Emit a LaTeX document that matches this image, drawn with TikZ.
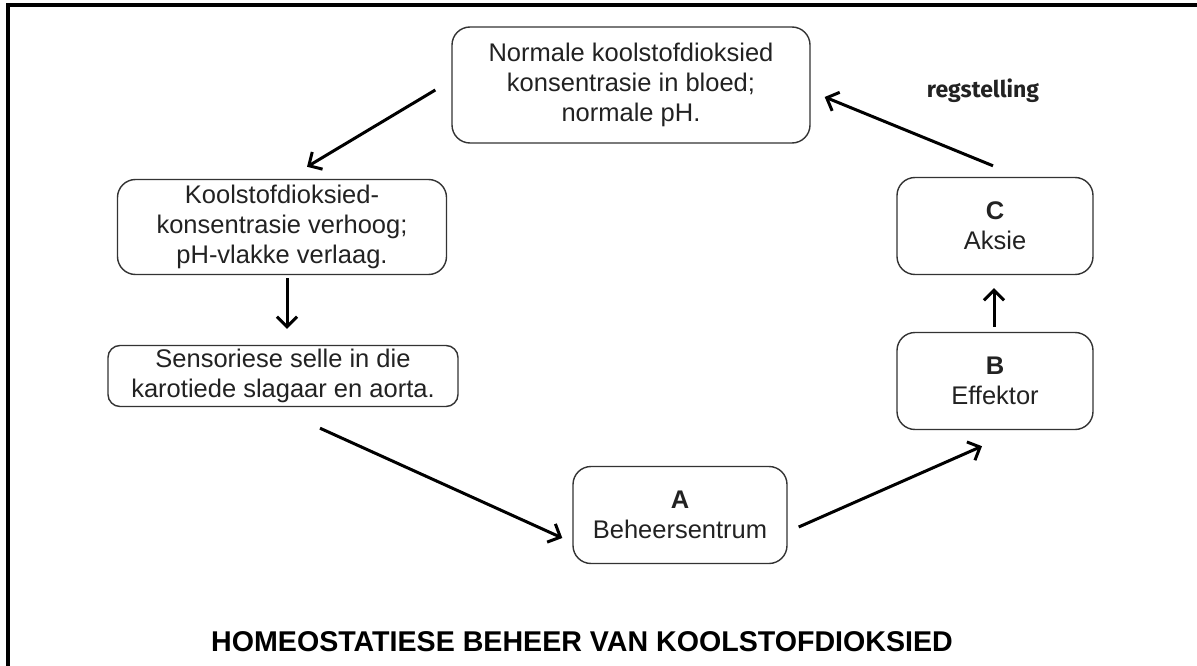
\documentclass[tikz,border=0pt]{standalone}
\usepackage{fontspec}
\setmainfont{Liberation Sans}
\newfontfamily\regfont{Fira Sans}
\usetikzlibrary{arrows.meta,calc}
\definecolor{boxline}{HTML}{333333}
\definecolor{txt}{HTML}{222222}
\tikzset{
  boxnode/.style={draw=boxline, line width=1.4pt, rounded corners=18pt, align=center,
    inner sep=0pt, text=txt, font=\fontsize{25.5}{30}\selectfont},
  flow/.style={line width=3pt, -{Straight Barb[length=10pt,width=20pt,line width=3pt]}},
}
\begin{document}
\begin{tikzpicture}[x=1pt,y=-1pt]
\useasboundingbox (0,0) rectangle (1197,666);
\fill[white] (0,0) rectangle (1197,666);
\draw[line width=4pt] (8,666) -- (8,5) -- (1197,5);

\node[boxnode, minimum width=358pt, minimum height=116pt] (N) at (631,85)
  {Normale koolstofdioksied\\konsentrasie in bloed;\\normale pH.};
\node[boxnode, minimum width=329pt, minimum height=95pt] (K) at (282,227)
  {Koolstofdioksied-\\konsentrasie verhoog;\\pH-vlakke verlaag.};
\node[boxnode, rounded corners=12pt, minimum width=350pt, minimum height=61pt] (S) at (283,376)
  {Sensoriese selle in die\\karotiede slagaar en aorta.};
\node[boxnode, minimum width=214pt, minimum height=97pt] (A) at (680,515)
  {\textbf{A}\\Beheersentrum};
\node[boxnode, minimum width=196pt, minimum height=97pt] (B) at (995,381)
  {\textbf{B}\\Effektor};
\node[boxnode, minimum width=196pt, minimum height=97pt] (C) at (995,226)
  {\textbf{C}\\Aksie};

\node[font=\regfont\bfseries\fontsize{23}{26}\selectfont, text=txt, anchor=base] (reg) at (983,98) {regstelling};
\node[font=\bfseries\fontsize{28.6}{32}\selectfont, anchor=base] (title) at (582,651)
  {HOMEOSTATIESE BEHEER VAN KOOLSTOFDIOKSIED};

\draw[flow] ($(N.west)+(-16,5)$) -- ($(K.north)+(25,-12)$);
\draw[flow] ($(K.south)+(5,3)$) -- ($(S.north)+(4,-16)$);
\draw[flow] ($(S.south)+(37,21)$) -- ($(A.west)+(-10,23)$);
\draw[flow] ($(A.east)+(11,12)$) -- ($(B.south)+(-13,16)$);
\draw[flow] ($(B.north)+(-1,-5)$) -- ($(C.south)+(-1,13)$);
\draw[flow] ($(C.north)+(-2,-11)$) -- ($(N.east)+(14,12)$);
\end{tikzpicture}
\end{document}
